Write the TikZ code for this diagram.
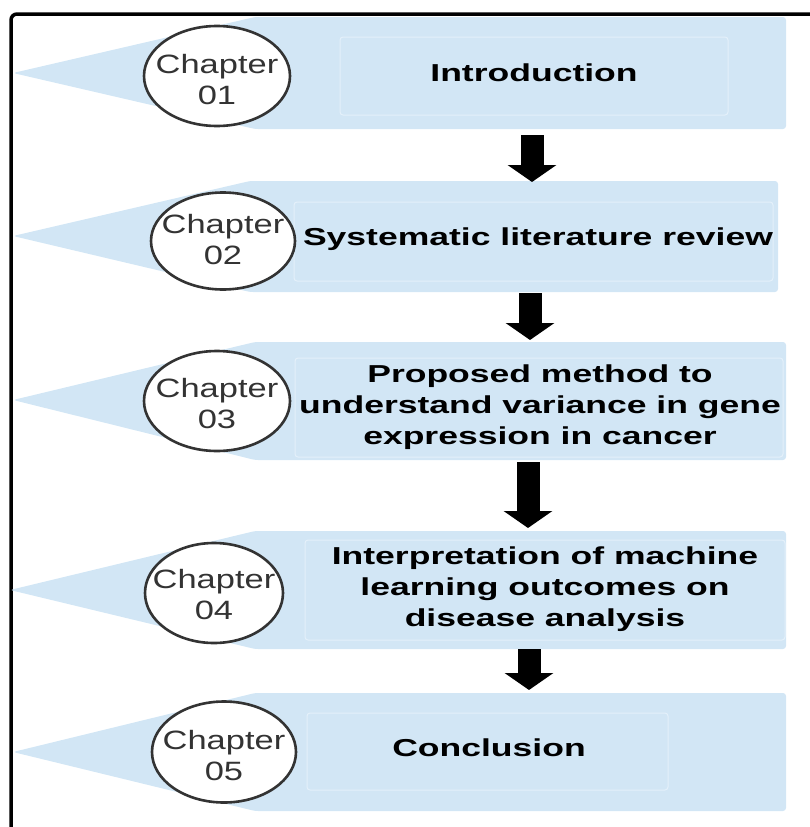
\documentclass[tikz,border=0pt]{standalone}
\usepackage{fontspec}
\setmainfont{Liberation Sans}
\usepackage{graphicx}
\usetikzlibrary{arrows.meta,shapes.geometric}

\definecolor{bandfill}{RGB}{210,230,245}
\definecolor{innerline}{RGB}{228,240,250}
\definecolor{ringgray}{RGB}{51,51,51}

% horizontally widened text lines
\newcommand\wideline[1]{\scalebox{1.45}[1]{#1}}
\newcommand\chapline[1]{\scalebox{1.3}[1]{#1}}

\begin{document}
\begin{tikzpicture}[x=1pt,y=-1pt,
  band/.style={fill=bandfill, draw=none, rounded corners=3pt},
  innerbox/.style={draw=innerline, line width=1pt, rounded corners=3pt},
  chapring/.style={ellipse, draw=ringgray, fill=white, line width=2.6pt,
    inner sep=0pt, outer sep=0pt},
  chaptext/.style={text=ringgray, align=center, inner sep=0pt,
    font=\fontsize{26.5}{31}\selectfont},
  title/.style={font=\bfseries\fontsize{24.5}{31}\selectfont, align=center},
  flow/.style={line width=23pt, -{Triangle[length=17pt,width=48pt]}},
  frameline/.style={line width=3.5pt, rounded corners=6pt},
]
\useasboundingbox (0,0) rectangle (809,827);

% outer frame (open towards the bottom and the right)
\draw[frameline] (11,840) -- (11,14) -- (820,14);

% ---- chapter bands ----
\fill[band] (13,73)  -- (255,17)  -- (786,17)  -- (786,129) -- (255,129) -- cycle;
\fill[band] (13,236) -- (250,181) -- (778,181) -- (778,292) -- (250,292) -- cycle;
\fill[band] (13,400) -- (255,342) -- (786,342) -- (786,460) -- (255,460) -- cycle;
\fill[band] (10,590) -- (255,531) -- (786,531) -- (786,649) -- (255,649) -- cycle;
\fill[band] (13,752) -- (255,693) -- (786,693) -- (786,811) -- (255,811) -- cycle;

% inner text panels
\draw[innerbox] (340,37)  rectangle (728,115);
\draw[innerbox] (294,202) rectangle (773,281);
\draw[innerbox] (295,358) rectangle (783,457);
\draw[innerbox] (305,540) rectangle (785,640);
\draw[innerbox] (307,713) rectangle (668,790);

% chapter badges
\node[chapring, minimum width=146pt, minimum height=100pt] (c1) at (217,76) {};
\node[chapring, minimum width=144pt, minimum height=97pt]  (c2) at (223,241) {};
\node[chapring, minimum width=146pt, minimum height=100pt] (c3) at (217,401) {};
\node[chapring, minimum width=138pt, minimum height=100pt] (c4) at (214,593) {};
\node[chapring, minimum width=144pt, minimum height=101pt] (c5) at (224,752) {};

% badge captions (canvas yshift: negative moves down)
\node[chaptext] (n1) at ([yshift=-3.5pt]c1.center) {\chapline{Chapter}\\\chapline{01}};
\node[chaptext] (n2) at ([yshift=1pt]c2.center)    {\chapline{Chapter}\\\chapline{02}};
\node[chaptext] (n3) at ([yshift=-2.5pt]c3.center) {\chapline{Chapter}\\\chapline{03}};
\node[chaptext] (n4) at ([yshift=-1.5pt]c4.center) {\chapline{Chapter}\\\chapline{04}};
\node[chaptext] (n5) at ([yshift=-4pt]c5.center)   {\chapline{Chapter}\\\chapline{05}};

% chapter titles
\node[title] (t1) at (534,73) {\wideline{Introduction}};
\node[title] (t2) at (538,239) {\wideline{Systematic literature review}};
\node[title] (t3) at (540,407) {\wideline{Proposed method to}\\
  \wideline{understand variance in gene}\\\wideline{expression in cancer}};
\node[title] (t4) at (545,589) {\wideline{Interpretation of machine}\\
  \wideline{learning outcomes on}\\\wideline{disease analysis}};
\node[title] (t5) at (489,748) {\wideline{Conclusion}};

% flow arrows between the bands
\coordinate (f1s) at (532,135); \coordinate (f1e) at (532,182);
\coordinate (f2s) at (530,293); \coordinate (f2e) at (530,340);
\coordinate (f3s) at (528,462); \coordinate (f3e) at (528,528);
\coordinate (f4s) at (529,649); \coordinate (f4e) at (529,690);
\draw[flow] (f1s) -- (f1e);
\draw[flow] (f2s) -- (f2e);
\draw[flow] (f3s) -- (f3e);
\draw[flow] (f4s) -- (f4e);
\end{tikzpicture}
\end{document}
